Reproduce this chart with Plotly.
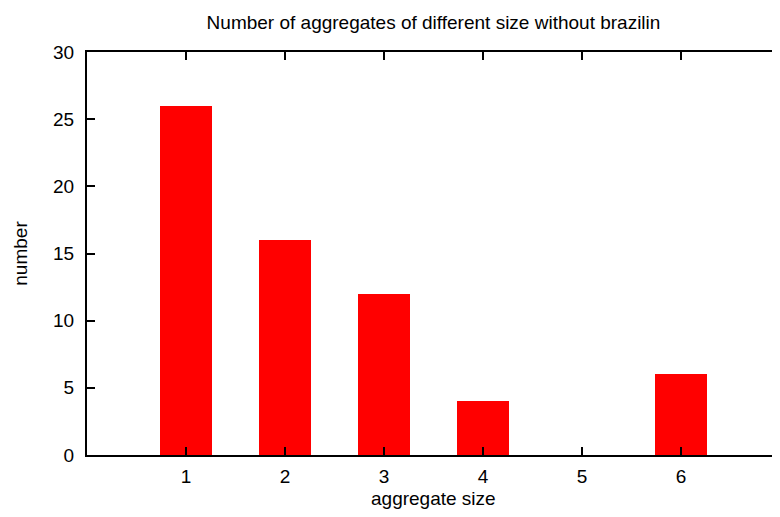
import plotly.graph_objects as go

sizes = [1, 2, 3, 4, 5, 6]
counts = [26, 16, 12, 4, 0, 6]
x_ticks = [1, 2, 3, 4, 5, 6]
y_ticks = [0, 5, 10, 15, 20, 25, 30]

FONT = "Liberation Sans, Arial, sans-serif"
FS = 19

# page body has an 8px default margin; figure sized to fit the window
W, H = 772, 501
L, T, B = 79, 44, 54
PLOT_H = H - T - B

fig = go.Figure()
fig.add_trace(go.Bar(x=sizes, y=counts, width=0.52, marker=dict(color="#ff0000", line=dict(width=0)),
                     showlegend=False))
# invisible trace for right axis ticks
fig.add_trace(go.Scatter(x=[sizes[0]], y=[counts[0]], yaxis="y2", mode="markers",
                         marker=dict(opacity=0), showlegend=False, hoverinfo="skip"))

fig.update_layout(
    width=W, height=H,
    margin=dict(l=L, r=0, t=T, b=B, autoexpand=False),
    paper_bgcolor="white", plot_bgcolor="white",
    font=dict(family=FONT, size=FS, color="black"),
    title=dict(text="Number of aggregates of different size without brazilin",
               x=0.5, xanchor="center", xref="paper", y=1 - 14 / H, yanchor="middle",
               font=dict(family=FONT, size=FS, color="black")),
    xaxis=dict(range=[0, 7], tickvals=x_ticks, ticktext=[str(v) for v in x_ticks],
               showgrid=False, zeroline=False, showline=True, linecolor="black", linewidth=2,
               mirror="ticks", ticks="inside", ticklen=8, tickwidth=2, tickcolor="black",
               automargin=False, ticklabelstandoff=3,
               tickfont=dict(size=FS)),
    yaxis=dict(range=[0, 30], tickvals=y_ticks, showgrid=False, zeroline=False,
               showline=True, linecolor="black", linewidth=2, mirror=False,
               ticks="inside", ticklen=8, tickwidth=2, tickcolor="black",
               automargin=False, ticklabelstandoff=7,
               title=dict(text="number", standoff=20, font=dict(size=FS)),
               tickfont=dict(size=FS)),
    yaxis2=dict(range=[0, 30], tickvals=y_ticks, overlaying="y", side="right",
                showgrid=False, zeroline=False, showline=False, showticklabels=False,
                automargin=False,
                ticks="inside", ticklen=8, tickwidth=2, tickcolor="black"),
    annotations=[dict(text="aggregate size", xref="paper", yref="paper", x=0.5, y=-43 / PLOT_H,
                      xanchor="center", yanchor="middle", showarrow=False,
                      font=dict(family=FONT, size=FS, color="black"))],
    bargap=0,
)

fig.write_html("out.html")
